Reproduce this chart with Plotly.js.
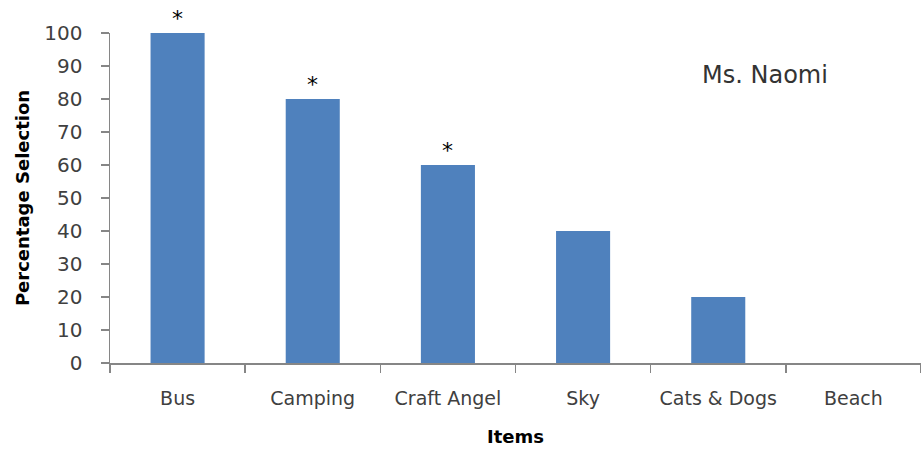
<!DOCTYPE html>
<html>
<head>
<meta charset="utf-8">
<script src="https://cdn.plot.ly/plotly-3.0.1.min.js"></script>
<style>
  html, body { margin: 0; padding: 0; background: #fff; }
  #chart { width: 921px; height: 450px; }
</style>
</head>
<body>
<div id="chart"></div>
<script>
// Items chosen in Ms. Naomi's class
const items = ["Bus", "Camping", "Craft Angel", "Sky", "Cats & Dogs", "Beach"];
const percentSelected = [100, 80, 60, 40, 20, 0];
const significance = ["*", "*", "*", "", "", ""];
const yTicks = [0, 10, 20, 30, 40, 50, 60, 70, 80, 90, 100];

const axisGray = "#868686";
const textColor = "#404040";
const fontFamily = "'DejaVu Sans', Verdana, sans-serif";

const bars = {
  type: "bar",
  x: items,
  y: percentSelected,
  marker: { color: "#4F81BD", line: { width: 0 } },
  hoverinfo: "x+y"
};

// Asterisk markers above the bars that carry a significance flag
const starNotes = items
  .map((name, i) => ({ name, i }))
  .filter(d => significance[d.i] !== "")
  .map(d => ({
    x: d.name,
    y: percentSelected[d.i],
    xref: "x",
    yref: "y",
    text: significance[d.i],
    showarrow: false,
    yanchor: "bottom",
    yshift: 0,
    font: { family: fontFamily, size: 22, color: "#000" }
  }));

const layout = {
  width: 921,
  height: 450,
  margin: { l: 110, r: 0, t: 33, b: 87 },
  paper_bgcolor: "#fff",
  plot_bgcolor: "#fff",
  showlegend: false,
  bargap: 0.6,
  font: { family: fontFamily, color: textColor },
  xaxis: {
    type: "category",
    range: [-0.5, 5.5],
    showline: true,
    linecolor: axisGray,
    linewidth: 1.5,
    showgrid: false,
    zeroline: false,
    ticks: "outside",
    tickson: "boundaries",
    ticklen: 8,
    tickcolor: axisGray,
    tickwidth: 1.5,
    ticklabelstandoff: 18,
    tickfont: { family: fontFamily, size: 19, color: textColor },
    title: {
      text: "<b>Items</b>",
      font: { family: fontFamily, size: 18, color: "#000" },
      standoff: 22
    }
  },
  yaxis: {
    range: [0, 100],
    tickvals: yTicks,
    ticktext: yTicks.map(String),
    showline: true,
    linecolor: axisGray,
    linewidth: 1.5,
    showgrid: false,
    zeroline: false,
    ticks: "outside",
    ticklen: 8,
    tickcolor: axisGray,
    tickwidth: 1.5,
    ticklabelstandoff: 14,
    tickfont: { family: fontFamily, size: 20, color: textColor },
    title: {
      text: "<b>Percentage Selection</b>",
      font: { family: fontFamily, size: 18, color: "#000" },
      standoff: 10
    }
  },
  annotations: starNotes.concat([{
    xref: "paper",
    yref: "paper",
    x: 0.808,
    y: 0.873,
    xanchor: "center",
    yanchor: "middle",
    text: "Ms. Naomi",
    showarrow: false,
    font: { family: fontFamily, size: 24, color: "#333" }
  }])
};

Plotly.newPlot("chart", [bars], layout, { displayModeBar: false, staticPlot: true });
</script>
</body>
</html>
